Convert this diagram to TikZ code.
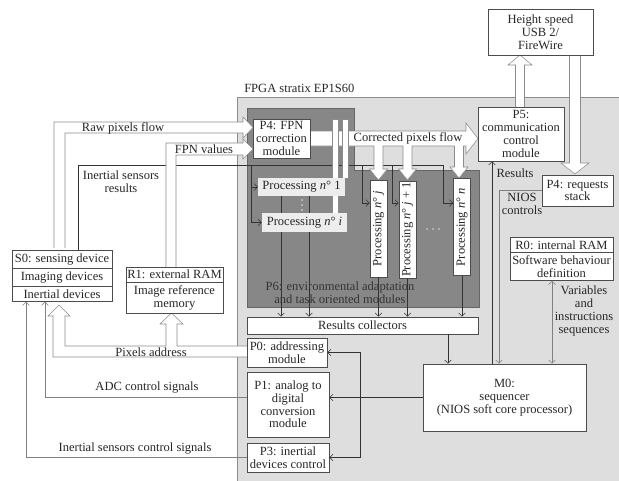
\documentclass[tikz,border=0pt]{standalone}
\usepackage{fontspec}
\setmainfont{Liberation Serif}
\usetikzlibrary{arrows.meta,shapes.multipart}
\pgfdeclarelayer{bg}
\pgfdeclarelayer{mid}
\pgfsetlayers{bg,mid,main}
\tikzset{
  box/.style={draw=black!70, fill=white, align=center, inner sep=1pt, text=black!85},
  proc/.style={fill=black!7, inner sep=1pt, text=black!85},
  vproc/.style={box, minimum width=12.75pt, minimum height=73pt, inner sep=0pt},
  splitbox/.style={box, rectangle split, rectangle split parts=#1, inner xsep=0.5pt, inner ysep=2.2pt},
  sig/.style={draw=black!80, ->},
  ctl/.style={draw=black!50, ->},
  pipe/.style={draw=black!45, fill=white},
  lbl/.style={align=center, text=black!85, inner sep=0pt},
}
\begin{document}
\begin{tikzpicture}[x=0.75pt, y=-0.75pt, font=\fontsize{9.4}{9.6}\selectfont,
  >={Straight Barb[length=2.5pt,width=5pt]}]
\useasboundingbox (0,0) rectangle (619,480);

% sensing device and external memory
\node[splitbox=3, minimum width=75pt] (s0) at (62,276)
  {S0: sensing device\nodepart{two}Imaging devices\nodepart{three}Inertial devices};
\node[splitbox=2, minimum width=72.75pt] (r1) at (174.5,290)
  {R1: external RAM\nodepart{two}Image reference\\memory};

% FPGA modules
\node[box, minimum width=42.75pt, minimum height=29.25pt] (fpn) at (281.5,138.5) {P4: FPN\\correction\\module};
\node[proc, minimum width=65pt, minimum height=13.5pt] (pone) at (301.5,187) {Processing \textit{n}° 1};
\node[proc, minimum width=64pt, minimum height=14.25pt] (pi) at (304.5,222.5) {Processing \textit{n}° \textit{i}};
\node[vproc] (pj) at (378.5,228.5) {\rotatebox{90}{Processing \textit{n}° \textit{j}}};
\node[vproc] (pjj) at (407.5,229.5) {\rotatebox{90}{Processing \textit{n}° \textit{j} + 1}};
\node[vproc] (pn) at (462,227) {\rotatebox{90}{Processing \textit{n}° \textit{n}}};
\node[box, minimum width=173.25pt, minimum height=12.75pt] (collect) at (362.5,325.5) {Results collectors};
\node[box, minimum width=60pt, minimum height=21.75pt] (p0) at (287,352.5) {P0: addressing\\module};
\node[box, minimum width=61.5pt, minimum height=48.75pt] (p1) at (288,404.5) {P1: analog to\\digital\\conversion\\module};
\node[box, minimum width=61.5pt, minimum height=21.75pt] (p3) at (288,457.5) {P3: inertial\\devices control};
\node[box, minimum width=122.25pt, minimum height=50.25pt] (m0) at (504.5,397.5) {M0:\\sequencer\\(NIOS soft core processor)};
\node[box, minimum width=64.5pt, minimum height=40.5pt] (p5) at (521,134) {P5:\\communication\\control\\module};
\node[box, minimum width=53.25pt, minimum height=23.25pt] (stack) at (577.5,190.5) {P4: requests\\stack};
\node[splitbox=2, minimum width=77pt] (r0) at (561.5,259)
  {R0: internal RAM\nodepart{two}Software behaviour\\definition};
\node[box, minimum width=79pt, minimum height=34.5pt] (usb) at (540.5,32) {Height speed\\USB 2/\\FireWire};

% labels
\node[lbl, anchor=west] (fpga) at (244,88) {FPGA stratix EP1S60};
\node[lbl, text=black!80] (p6) at (340,293) {P6: environmental adaptation\\and task oriented modules};
\node[lbl] (lraw) at (123,128) {Raw pixels flow};
\node[lbl] (lfpn) at (204,149) {FPN values};
\node[lbl] (lires) at (121,182) {Inertial sensors\\results};
\node[lbl] (lcor) at (408,138.5) {Corrected pixels flow};
\node[lbl] (lres) at (515,173) {Results};
\node[lbl] (lnios) at (522,204) {NIOS\\controls};
\node[lbl] (lvar) at (584,311) {Variables\\and\\instructions\\sequences};
\node[lbl] (lpix) at (151,352) {Pixels address};
\node[lbl] (ladc) at (147,387) {ADC control signals};
\node[lbl] (lisc) at (135,448) {Inertial sensors control signals};

% FPGA background and inertial results bus
\begin{pgfonlayer}{bg}
\draw[black!45, fill=black!13] (237,97) rectangle (630,490);
\draw[black!60, fill=black!47] (247,108) -- (354,108) -- (354,170) -- (479,170) -- (479,307) -- (247,307) -- cycle;
\coordinate (bus0) at (78,165);
\coordinate (bus1) at (251,165);
\coordinate (bus2) at (362,165);
\coordinate (bus3) at (392,165);
\coordinate (bus4) at (443,165);
\coordinate (tap) at (0,203);
\draw[black!80] (s0.north -| bus0) -- (bus0) -- (bus4);
\draw[sig] (bus1) |- (pone.west);
\draw[sig] (bus1) |- (pi.west);
\draw[sig] (bus2) |- (pj.west |- tap);
\draw[sig] (bus3) |- (pjj.west |- tap);
\draw[sig] (bus4) |- (pn.west |- tap);
\end{pgfonlayer}

% wide data flows
\begin{pgfonlayer}{mid}
\draw[pipe] (54,248) -- (54,122) -- (243,122) -- (243,117) -- (253,127.5) -- (243,138) -- (243,133) -- (65,133) -- (65,248);
\draw[pipe] (166,268) -- (166,143) -- (243,143) -- (243,139) -- (253,149) -- (243,159) -- (243,155) -- (176,155) -- (176,268);
\draw[pipe] (310,131) -- (466,131) -- (466,123) -- (478,138.5) -- (466,154) -- (466,146)
  -- (463.5,146) -- (463.5,167) -- (468,167) -- (459,178) -- (450,167) -- (454.5,167) -- (454.5,146)
  -- (412,146) -- (412,169) -- (416.5,169) -- (407.5,180) -- (398.5,169) -- (403,169) -- (403,146)
  -- (383,146) -- (383,169) -- (387.5,169) -- (378.5,180) -- (369.5,169) -- (374,169) -- (374,146)
  -- (310,146) -- cycle;
\draw[pipe] (332,119) rectangle (338,213);
\draw[pipe] (342,119) rectangle (348,178);
\draw[pipe] (247,346) -- (177,346) -- (177,324) -- (183,324) -- (171.5,313) -- (160,324) -- (166,324) -- (166,346)
  -- (65,346) -- (65,316) -- (70,316) -- (59,305) -- (48,316) -- (53,316) -- (53,357) -- (247,357);
\draw[pipe] (515.5,107) -- (515.5,65) -- (508,65) -- (520,55) -- (532,65) -- (524.5,65) -- (524.5,107);
\draw[pipe] (569.5,55) -- (569.5,163) -- (561,163) -- (575,174) -- (589,163) -- (580.5,163) -- (580.5,55);
\end{pgfonlayer}

% ellipses between processing units
\foreach \y in {200,205,210} \fill[black!10] (302,\y) circle (0.8);
\foreach \x in {427,433,439} \fill[black!15] (\x,229) circle (0.8);

% results and control connectors
\coordinate (outa) at (281,0);
\coordinate (outb) at (309,0);
\coordinate (colx) at (448,0);
\coordinate (resx) at (492,0);
\coordinate (niosx) at (499,0);
\coordinate (varx) at (552,0);
\coordinate (fan) at (360,0);
\coordinate (adcx) at (45,0);
\coordinate (inx) at (26,0);
\draw[black!80] (pone.south -| outa) -- (pi.north -| outa);
\draw[black!80] (pone.south -| outb) -- (pi.north -| outb);
\draw[sig] (pi.south -| outa) -- (collect.north -| outa);
\draw[sig] (pi.south -| outb) -- (collect.north -| outb);
\draw[sig] (pj.south) -- (pj.south |- collect.north);
\draw[sig] (pjj.south) -- (pjj.south |- collect.north);
\draw[sig] (pn.south) -- (pn.south |- collect.north);
\draw[sig] (collect.south -| colx) -- (m0.north -| colx);
\draw[sig] (m0.north -| resx) -- (p5.south -| resx);
\draw[ctl] (stack.west) -| (m0.north -| niosx);
\draw[ctl, <->] (r0.south -| varx) -- (m0.north -| varx);
\draw[sig] (m0.west) -- (m0.west -| p1.east);
\draw[sig] (m0.west -| fan) |- (p0.east);
\draw[sig] (m0.west -| fan) |- (p3.east);
\draw[ctl] (p1.west |- m0.west) -| (s0.south -| adcx);
\draw[ctl] (p3.west) -| (s0.south -| inx);
\end{tikzpicture}
\end{document}
